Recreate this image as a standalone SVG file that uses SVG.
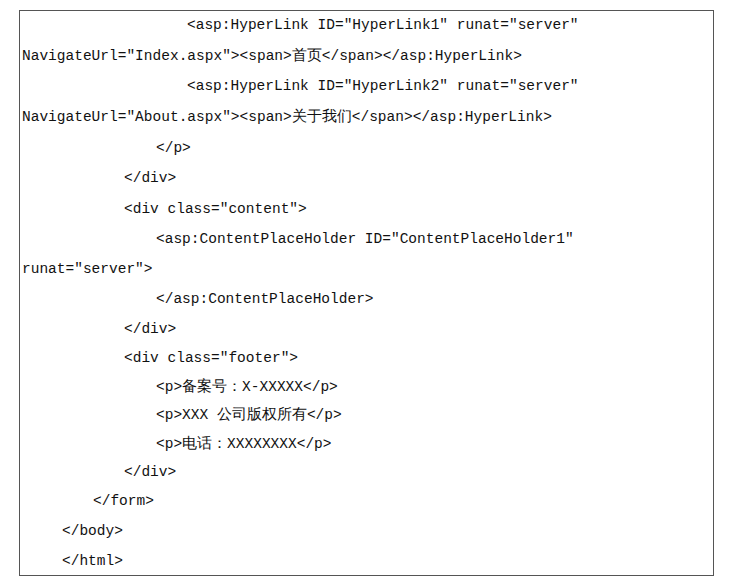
<svg xmlns="http://www.w3.org/2000/svg" width="730" height="587" viewBox="0 0 730 587">
<style>.c{font-family:'Liberation Mono','DejaVu Sans Mono',monospace;font-size:14.5px;fill:#111}</style>
<rect width="730" height="587" fill="#fff"/>
<rect x="19.5" y="10.5" width="694" height="565" fill="none" stroke="#555" stroke-width="1"/>
<g id="code" class="c">
<text x="187" y="29">&lt;asp:HyperLink ID="HyperLink1" runat="server"</text>
<text x="22" y="60">NavigateUrl="Index.aspx"&gt;&lt;span&gt;首页&lt;/span&gt;&lt;/asp:HyperLink&gt;</text>
<text x="187" y="90">&lt;asp:HyperLink ID="HyperLink2" runat="server"</text>
<text x="22" y="121">NavigateUrl="About.aspx"&gt;&lt;span&gt;关于我们&lt;/span&gt;&lt;/asp:HyperLink&gt;</text>
<text x="156" y="152">&lt;/p&gt;</text>
<text x="124" y="182">&lt;/div&gt;</text>
<text x="124" y="213">&lt;div class="content"&gt;</text>
<text x="156" y="243">&lt;asp:ContentPlaceHolder ID="ContentPlaceHolder1"</text>
<text x="22" y="273">runat="server"&gt;</text>
<text x="156" y="303">&lt;/asp:ContentPlaceHolder&gt;</text>
<text x="124" y="333">&lt;/div&gt;</text>
<text x="124" y="362">&lt;div class="footer"&gt;</text>
<text x="156" y="391">&lt;p&gt;备案号：X-XXXXX&lt;/p&gt;</text>
<text x="156" y="419">&lt;p&gt;XXX 公司版权所有&lt;/p&gt;</text>
<text x="156" y="448">&lt;p&gt;电话：XXXXXXXX&lt;/p&gt;</text>
<text x="124" y="476">&lt;/div&gt;</text>
<text x="93" y="505">&lt;/form&gt;</text>
<text x="62" y="535">&lt;/body&gt;</text>
<text x="62" y="565">&lt;/html&gt;</text>
</g>
</svg>
